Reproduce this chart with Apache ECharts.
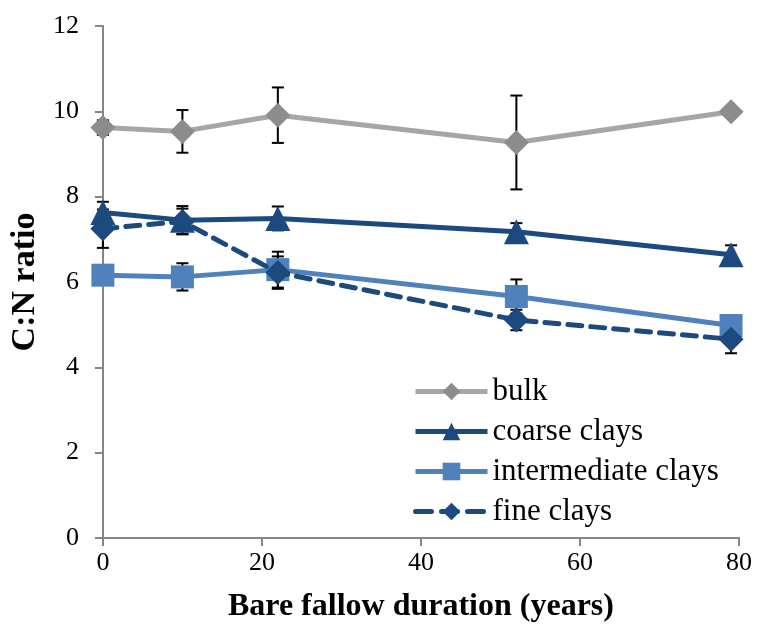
<!DOCTYPE html>
<html>
<head>
<meta charset="utf-8">
<script src="https://cdn.jsdelivr.net/npm/echarts@6/dist/echarts.min.js"></script>
<style>html,body{margin:0;padding:0;background:#fff}#c{width:760px;height:630px}</style>
</head>
<body>
<div id="c"></div>
<script>
const years = [0, 10, 22, 52, 79];
const bulk = [9.62, 9.53, 9.91, 9.27, 9.99];
const bulkErr = [0.17, 0.5, 0.65, 1.1, 0];
const coarse = [7.63, 7.45, 7.49, 7.18, 6.64];
const coarseErr = [0.25, 0.33, 0.28, 0.2, 0.22];
const intermediate = [6.16, 6.12, 6.29, 5.66, 4.98];
const intermediateErr = [0.1, 0.32, 0.42, 0.4, 0.1];
const fine = [7.25, 7.42, 6.22, 5.11, 4.66];
const fineErr = [0.45, 0.3, 0.38, 0.24, 0.33];
const names = ['bulk', 'coarse clays', 'intermediate clays', 'fine clays'];
const xTicks = [0, 20, 40, 60, 80];
const yTicks = [0, 2, 4, 6, 8, 10, 12];

const FONT = '"Liberation Serif", "Times New Roman", serif';
const AXIS = '#868686';

function pairs(vals) { return years.map((x, i) => [x, vals[i]]); }
function errData(vals, errs) {
  return years.map((x, i) => [x, vals[i] - errs[i], vals[i] + errs[i]]).filter((d, i) => errs[i] > 0);
}
function errSeries(vals, errs) {
  return {
    type: 'custom', silent: true, z: 1,
    data: errData(vals, errs),
    renderItem: function (params, api) {
      const lo = api.coord([api.value(0), api.value(1)]);
      const hi = api.coord([api.value(0), api.value(2)]);
      const w = 6;
      const st = { stroke: '#000', lineWidth: 2, fill: null };
      return {
        type: 'group',
        children: [
          { type: 'line', shape: { x1: lo[0], y1: lo[1], x2: hi[0], y2: hi[1] }, style: st },
          { type: 'line', shape: { x1: lo[0] - w, y1: lo[1], x2: lo[0] + w, y2: lo[1] }, style: st },
          { type: 'line', shape: { x1: hi[0] - w, y1: hi[1], x2: hi[0] + w, y2: hi[1] }, style: st }
        ]
      };
    }
  };
}

const chart = echarts.init(document.getElementById('c'), null, { renderer: 'canvas' });
chart.setOption({
  animation: false,
  backgroundColor: '#fff',
  grid: { left: 100, top: 26, right: 21, bottom: 92, containLabel: false },
  legend: {
    data: [
      { name: names[0] },
      { name: names[1] },
      { name: names[2] },
      { name: names[3], lineStyle: { type: [16, 10], cap: 'round' } }
    ],
    orient: 'vertical',
    left: 408, top: 371,
    itemWidth: 72, itemHeight: 22, itemGap: 9,
    lineStyle: { width: 5 },
    textStyle: { fontFamily: FONT, fontSize: 31, color: '#000' }
  },
  xAxis: {
    type: 'value', min: 0, max: 80, interval: 20,
    name: 'Bare fallow duration (years)', nameLocation: 'middle', nameGap: 53,
    nameTextStyle: { fontFamily: FONT, fontSize: 32, fontWeight: 'bold', color: '#000' },
    axisLine: { show: true, lineStyle: { color: AXIS, width: 2 } },
    axisTick: { show: true, length: 8, lineStyle: { color: AXIS, width: 2 } },
    axisLabel: { fontFamily: FONT, fontSize: 26, color: '#000', margin: 12,
      formatter: v => xTicks.includes(v) ? String(v) : '' },
    splitLine: { show: false }
  },
  yAxis: {
    type: 'value', min: 0, max: 12, interval: 2,
    name: 'C:N ratio', nameLocation: 'middle', nameGap: 59, nameRotate: 90,
    nameTextStyle: { fontFamily: FONT, fontSize: 34, fontWeight: 'bold', color: '#000' },
    axisLine: { show: true, lineStyle: { color: AXIS, width: 2 } },
    axisTick: { show: true, length: 8, lineStyle: { color: AXIS, width: 2 } },
    axisLabel: { fontFamily: FONT, fontSize: 26, color: '#000', margin: 24,
      formatter: v => yTicks.includes(v) ? String(v) : '' },
    splitLine: { show: false }
  },
  series: [
    errSeries(bulk, bulkErr),
    errSeries(coarse, coarseErr),
    errSeries(intermediate, intermediateErr),
    errSeries(fine, fineErr),
    {
      name: names[0], type: 'line', data: pairs(bulk), z: 3,
      symbol: 'diamond', symbolSize: 25, showAllSymbol: true,
      lineStyle: { color: '#A6A6A6', width: 5 },
      itemStyle: { color: '#8C8C8C' }
    },
    {
      name: names[1], type: 'line', data: pairs(coarse), z: 4,
      symbol: 'triangle', symbolSize: 25,
      lineStyle: { color: '#1C4A7E', width: 5 },
      itemStyle: { color: '#1C4A7E' }
    },
    {
      name: names[2], type: 'line', data: pairs(intermediate), z: 5,
      symbol: 'rect', symbolSize: 23,
      lineStyle: { color: '#4F81BD', width: 5 },
      itemStyle: { color: '#4F81BD' }
    },
    {
      name: names[3], type: 'line', data: pairs(fine), z: 6,
      symbol: 'diamond', symbolSize: 25,
      lineStyle: { color: '#1C4A7E', width: 5, type: [14, 9], cap: 'round' },
      itemStyle: { color: '#1C4A7E' }
    }
  ]
});
</script>
</body>
</html>
